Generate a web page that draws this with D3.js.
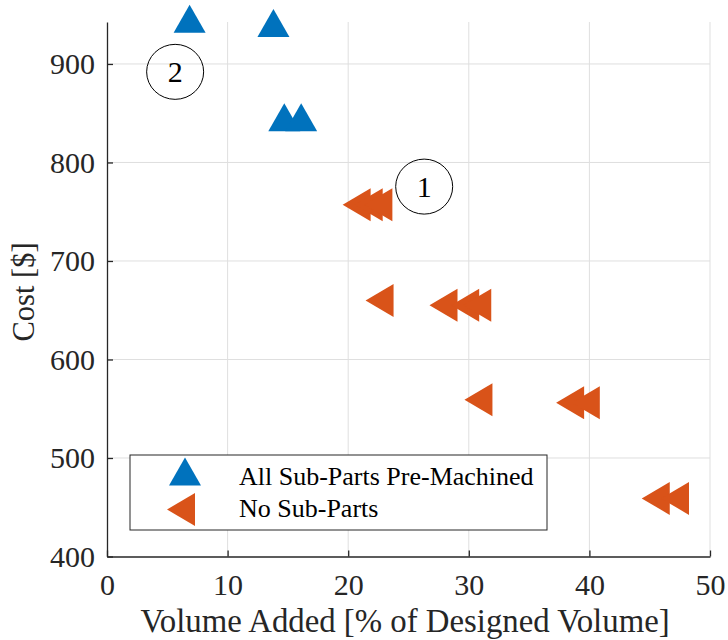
<!DOCTYPE html>
<html><head><meta charset="utf-8">
<script src="https://cdn.jsdelivr.net/npm/d3@7"></script>
<style>body{margin:0;background:#fff;} svg{display:block;}</style>
</head>
<body><svg id="c" width="728" height="640" font-family="Liberation Serif"></svg>
<script>
// Data
const seriesNames = ["All Sub-Parts Pre-Machined", "No Sub-Parts"];
const preMachinedVolume = [6.85, 13.8, 14.7, 16.1];
const preMachinedCost   = [946, 941.5, 846, 846];
const noSubVolume = [20.7, 21.7, 22.5, 22.6, 27.9, 29.7, 30.7, 30.8, 38.4, 39.7, 45.5, 47.1];
const noSubCost   = [757, 757, 757, 660, 655, 655, 655, 559, 556, 556, 459, 459];
const xTicks = [0, 10, 20, 30, 40, 50];
const yTicks = [400, 500, 600, 700, 800, 900];
const annotations = [{label:"2", x:5.65, y:892}, {label:"1", x:26.3, y:775.5}];
const xLabel = "Volume Added [% of Designed Volume]";
const yLabel = "Cost [$]";

const FONT = "Liberation Serif";
const svg = d3.select("#c");
const x = d3.scaleLinear().domain([0, 50]).range([107, 710]);
const y = d3.scaleLinear().domain([400, 942.6]).range([556.5, 22]);
const blue = "#0072BD", orange = "#D95319", axisCol = "#262626";

// grid
const g = svg.append("g");
g.selectAll(".gx").data(xTicks.slice(1)).enter().append("line")
  .attr("x1", d=>x(d)).attr("x2", d=>x(d)).attr("y1", y.range()[0]).attr("y2", y.range()[1])
  .attr("stroke", "#dfdfdf").attr("stroke-width", 1);
g.selectAll(".gy").data(yTicks.slice(1)).enter().append("line")
  .attr("y1", d=>y(d)).attr("y2", d=>y(d)).attr("x1", x.range()[0]).attr("x2", x.range()[1])
  .attr("stroke", "#dfdfdf").attr("stroke-width", 1);

// axes
const xAxis = d3.axisBottom(x).tickValues(xTicks).tickSize(-6).tickSizeOuter(0);
const yAxis = d3.axisLeft(y).tickValues(yTicks).tickSize(-6).tickPadding(12).tickSizeOuter(0);
const gx = svg.append("g").attr("transform", `translate(0,${y(400)})`).call(xAxis);
const gy = svg.append("g").attr("transform", `translate(${x(0)},0)`).call(yAxis);
[gx, gy].forEach(a => {
  a.attr("font-family", FONT).attr("font-size", 30);
  a.select(".domain").attr("stroke", axisCol).attr("stroke-width", 1.3);
  a.selectAll(".tick line").attr("stroke", axisCol).attr("stroke-width", 1.3);
  a.selectAll(".tick text").attr("fill", axisCol);
});
gx.selectAll(".tick text").attr("y", 38.5).attr("dy", 0);
gy.selectAll(".tick text").attr("dy", "0.33em");

svg.append("text").attr("x", 405).attr("y", 632).attr("text-anchor", "middle")
  .attr("fill", axisCol).attr("font-size", 32.8).text(xLabel);
svg.append("text").attr("transform", `translate(34,292) rotate(-90)`)
  .attr("text-anchor", "middle").attr("fill", axisCol).attr("font-size", 30.5).text(yLabel);

// marker shapes
const upTri = "M0,-14 L16,14 L-16,14 Z";
const leftTri = "M-14,0 L14,-16.5 L14,16.5 Z";

const pm = preMachinedVolume.map((v,i)=>({x:v, y:preMachinedCost[i]}));
const ns = noSubVolume.map((v,i)=>({x:v, y:noSubCost[i]}));
svg.append("g").selectAll("path").data(pm).enter().append("path")
  .attr("d", upTri).attr("transform", d=>`translate(${x(d.x)},${y(d.y)})`).attr("fill", blue);
svg.append("g").selectAll("path").data(ns).enter().append("path")
  .attr("d", leftTri).attr("transform", d=>`translate(${x(d.x)},${y(d.y)})`).attr("fill", orange);

// annotations
const an = svg.append("g").selectAll("g").data(annotations).enter().append("g")
  .attr("transform", d=>`translate(${x(d.x)},${y(d.y)})`);
an.append("ellipse").attr("rx", 28.5).attr("ry", 27.5).attr("fill", "none").attr("stroke", "#000").attr("stroke-width", 1);
an.append("text").attr("text-anchor", "middle").attr("dy", "0.34em").attr("font-size", 30).attr("fill", "#000").text(d=>d.label);

// legend
const lg = svg.append("g");
lg.append("rect").attr("x", 130).attr("y", 455).attr("width", 417).attr("height", 75)
  .attr("fill", "#fff").attr("stroke", axisCol).attr("stroke-width", 1);
const items = [
  {name:seriesNames[0], shape:upTri, color:blue, mx:185, my:471.5, ty:485},
  {name:seriesNames[1], shape:leftTri, color:orange, mx:181, my:509.5, ty:517}
];
items.forEach(it=>{
  lg.append("path").attr("d", it.shape).attr("transform", `translate(${it.mx},${it.my})`).attr("fill", it.color);
  lg.append("text").attr("x", 239).attr("y", it.ty).attr("font-size", 26).attr("fill", "#000").text(it.name);
});
</script></body></html>
